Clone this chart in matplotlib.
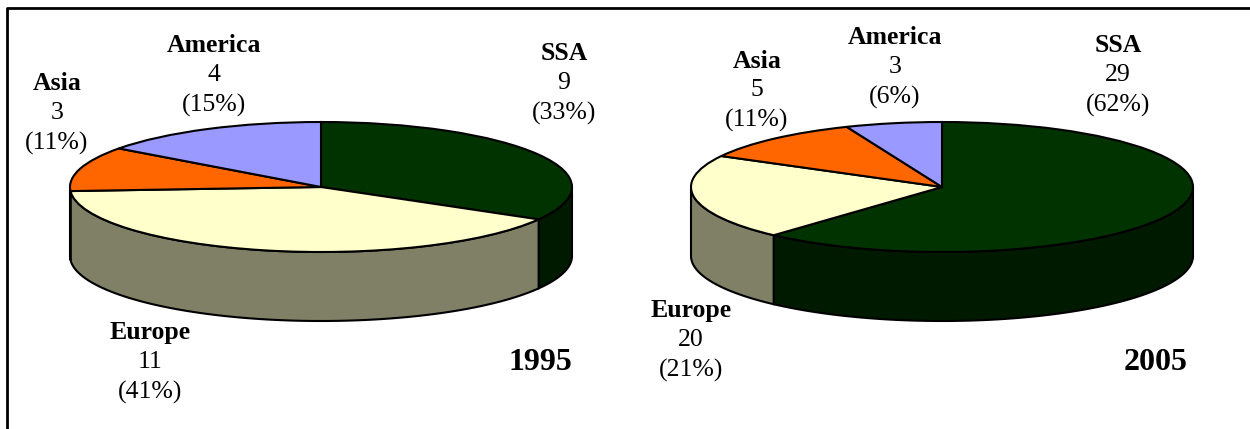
import matplotlib
matplotlib.use('Agg')
import matplotlib.pyplot as plt
import numpy as np

plt.rcParams['font.family'] = ['Liberation Serif', 'DejaVu Serif']

W, H = 1250, 429

regions = ['SSA', 'Europe', 'Asia', 'America']
counts_1995 = [9, 11, 3, 4]
share_1995 = [33, 41, 11, 15]
slices_1995 = [33.3, 40.7, 11.1, 14.9]
counts_2005 = [29, 20, 5, 3]
share_2005 = [62, 21, 11, 6]
slices_2005 = [61.7, 21.2, 10.9, 6.2]

top_colors = ['#003300', '#FFFFCC', '#FF6600', '#9999FF']
side_colors = ['#001A00', '#808066', '#803300', '#4D4D80']


def draw_pie(cx, share):
    # one unit = rx across, ry down, so the pie is squashed into an ellipse
    rx, ry, cy, depth = 251, 65, 187, 69 / 65
    ax = fig.add_axes([(cx - rx * 1.3) / W, 1 - (cy + ry * 2.5) / H, rx * 2.6 / W, ry * 5 / H])
    ax.pie(share, colors=top_colors, startangle=90, counterclock=False,
           wedgeprops={'edgecolor': 'black', 'linewidth': 1.5, 'zorder': 3})
    ax.set_aspect('auto')
    ax.set_xlim(-1.3, 1.3)
    ax.set_ylim(-2.5, 2.5)

    # side wall, only the front half of the rim shows
    edges = np.cumsum([0] + list(share)) / sum(share) * 360
    for i in range(len(share)):
        a0, a1 = max(edges[i], 90), min(edges[i + 1], 270)
        if a1 <= a0:
            continue
        t = np.radians(np.linspace(a0, a1, 80))
        x, y = np.sin(t), np.cos(t)
        ax.fill(np.r_[x, x[::-1]], np.r_[y, y[::-1] - depth], facecolor=side_colors[i],
                edgecolor='black', linewidth=1.5, zorder=2)


def label(x, y, name, count, pct):
    fig.text(x / W, 1 - (y + 2) / H, name, ha='center', va='center', fontsize=18.5, fontweight='bold')
    fig.text(x / W, 1 - (y + 31) / H, str(count), ha='center', va='center', fontsize=18.5)
    fig.text(x / W, 1 - (y + 61) / H, f'({pct}%)', ha='center', va='center', fontsize=18.5)


fig = plt.figure(figsize=(W / 100, H / 100), dpi=100)

# outer frame: only top and left rules are in the picture
frame = fig.add_axes([0, 0, 1, 1])
frame.set_xlim(0, W)
frame.set_ylim(H, 0)
frame.axis('off')
frame.plot([7, 7, W], [H, 8, 8], color='black', lw=2)

draw_pie(321, slices_1995)
draw_pie(942, slices_2005)

pos_1995 = [(564, 52), (150, 331), (57, 82), (214, 44)]
pos_2005 = [(1118, 44), (691, 309), (757, 59), (895, 36)]
for i, name in enumerate(regions):
    label(*pos_1995[i], name, counts_1995[i], share_1995[i])
    label(*pos_2005[i], name, counts_2005[i], share_2005[i])

fig.text(540 / W, 1 - 363 / H, '1995', ha='center', va='center', fontsize=23, fontweight='bold')
fig.text(1156 / W, 1 - 363 / H, '2005', ha='center', va='center', fontsize=23, fontweight='bold')

fig.savefig('out.png', dpi=100)
